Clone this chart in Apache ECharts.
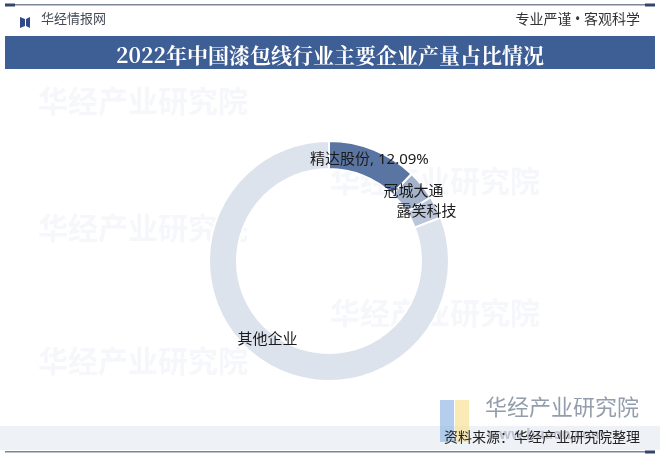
<!DOCTYPE html>
<html>
<head>
<meta charset="utf-8">
<script src="https://cdn.jsdelivr.net/npm/echarts@6/dist/echarts.min.js"></script>
<style>
html,body{margin:0;padding:0;background:#fff;}
#main{width:660px;height:461px;}
</style>
</head>
<body>
<div id="main"></div>
<script>
var titleText = '2022年中国漆包线行业主要企业产量占比情况';
var categories = ['精达股份', '冠城大通', '露笑科技', '其他企业'];
var shares = [12.09, 4, 3, 80.91];
var colors = ['#5b75a3', '#a4b2cc', '#bcc6d9', '#dde3ed'];
var sourceText = '资料来源：华经产业研究院整理';

var FONT = '"Noto Sans", "Noto Sans CJK SC", sans-serif';
var chart = echarts.init(document.getElementById('main'), null, {renderer: 'canvas'});

var data = categories.map(function (c, i) {
  var d = {name: c, value: shares[i], itemStyle: {color: colors[i]}};
  if (i === 0) d.label = {formatter: '{b}, {d}%'};
  if (i === 3) d.label = {offset: [0, -11]};
  return d;
});

var wmTexts = [];
[[38, 88], [38, 215], [38, 348], [330, 168], [330, 300]].forEach(function (p) {
  wmTexts.push({type: 'text', left: p[0], top: p[1], z: 0, silent: true,
    style: {text: '华经产业研究院', fill: '#f6f7fa', font: 'bold 30px ' + FONT}});
});

chart.setOption({
  backgroundColor: '#ffffff',
  animation: false,
  title: {
    text: titleText,
    left: 'center',
    top: 40,
    textStyle: {color: '#ffffff', fontSize: 21, fontWeight: 'bold', fontFamily: '"Noto Serif CJK SC", "Noto Sans CJK SC", serif'}
  },
  graphic: wmTexts.concat([
    {type: 'rect', shape: {x: 5, y: 4, width: 650, height: 1.5}, style: {fill: '#7d8599'}, silent: true},
    {type: 'rect', shape: {x: 5, y: 3.5, width: 10, height: 3}, style: {fill: '#34456d'}, silent: true},
    {type: 'rect', shape: {x: 645, y: 3.5, width: 10, height: 3}, style: {fill: '#34456d'}, silent: true},
    {type: 'polygon', shape: {points: [[20, 17], [25, 19], [25, 26], [20, 28]]}, style: {fill: '#2f4a86'}, silent: true},
    {type: 'polygon', shape: {points: [[26, 19], [30, 17], [30, 28], [26, 26]]}, style: {fill: '#2f4a86'}, silent: true},
    {type: 'text', left: 41, top: 13, style: {text: '华经情报网', fill: '#444a55', font: '13px ' + FONT}, silent: true},
    {type: 'text', right: 20, top: 13, style: {text: '专业严谨 • 客观科学', fill: '#333333', font: '14px ' + FONT}, silent: true},
    {type: 'rect', z: -1, shape: {x: 5, y: 36, width: 650, height: 33}, style: {fill: '#3e5e96'}, silent: true},
    {type: 'rect', z: -1, shape: {x: 0, y: 426, width: 660, height: 24}, style: {fill: '#eef1f6'}, silent: true},
    {type: 'rect', z: 1, shape: {x: 440, y: 400, width: 14, height: 42}, style: {fill: 'rgba(150,185,230,0.7)'}, silent: true},
    {type: 'rect', z: 1, shape: {x: 455, y: 400, width: 14, height: 42}, style: {fill: 'rgba(248,225,150,0.7)'}, silent: true},
    {type: 'text', z: 1, left: 485, top: 398, style: {text: '华经产业研究院', fill: 'rgba(120,132,150,0.8)', font: '22px ' + FONT}, silent: true},
    {type: 'text', z: 1, left: 487, top: 428, style: {text: 'www.huaon.com', fill: 'rgba(130,140,160,0.45)', font: 'bold 14px ' + FONT}, silent: true},
    {type: 'text', z: 2, right: 20, top: 431, style: {text: sourceText, fill: '#222222', font: '14px ' + FONT}, silent: true},
    {type: 'rect', shape: {x: 5, y: 451, width: 650, height: 1.5}, style: {fill: '#7d8599'}, silent: true},
    {type: 'rect', shape: {x: 645, y: 450.5, width: 10, height: 3}, style: {fill: '#34456d'}, silent: true}
  ]),
  series: [{
    type: 'pie',
    z: 3,
    center: [329, 261],
    radius: [92, 120],
    startAngle: 90,
    clockwise: true,
    avoidLabelOverlap: false,
    itemStyle: {borderColor: '#ffffff', borderWidth: 2},
    label: {
      show: true,
      position: 'inside',
      formatter: '{b}',
      color: '#1a1a1a',
      fontSize: 15,
      fontFamily: FONT
    },
    labelLine: {show: false},
    emphasis: {disabled: true},
    data: data
  }]
});
</script>
</body>
</html>
